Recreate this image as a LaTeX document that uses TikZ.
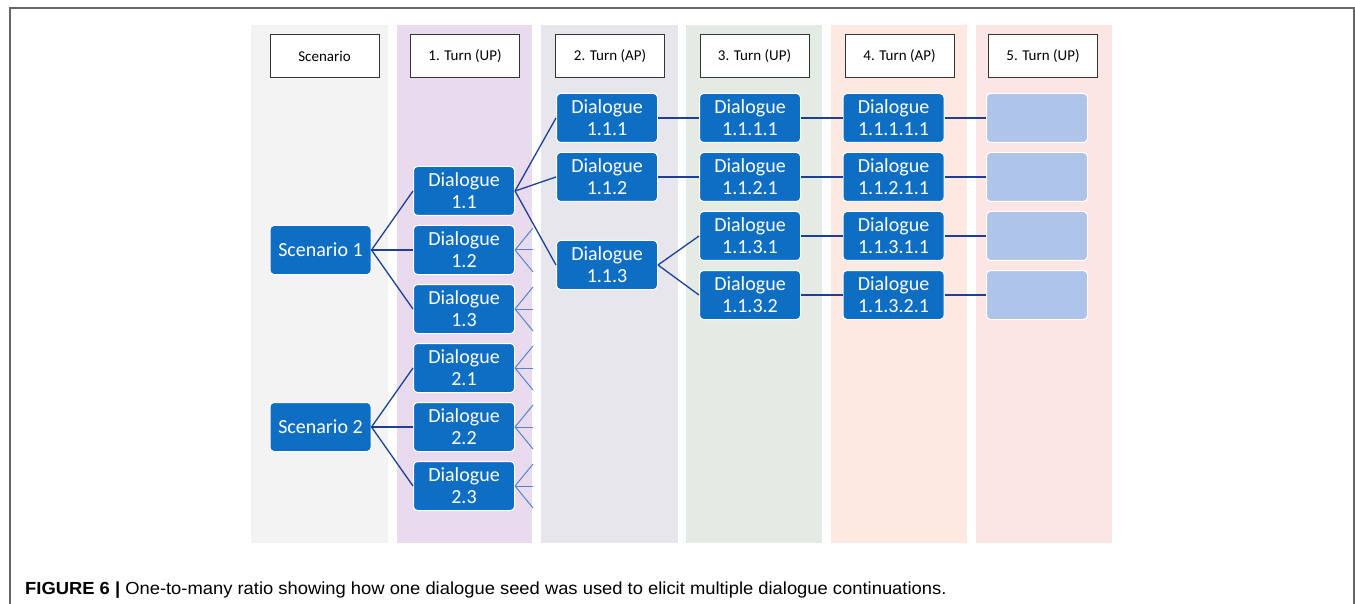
\documentclass[tikz,border=0pt]{standalone}
\usepackage{fontspec}
\setmainfont{Carlito}
\newfontfamily\capfont{Liberation Sans}[FakeStretch=1.05]
\usetikzlibrary{positioning}
\definecolor{dlgblue}{RGB}{14,110,196}
\definecolor{connblue}{RGB}{28,64,150}
\definecolor{fadeblue}{RGB}{84,132,212}
\definecolor{blankblue}{RGB}{174,196,233}
\definecolor{colscen}{RGB}{243,243,243}
\definecolor{colone}{RGB}{234,218,237}
\definecolor{coltwo}{RGB}{230,230,236}
\definecolor{colthree}{RGB}{228,235,229}
\definecolor{colfour}{RGB}{253,233,226}
\definecolor{colfive}{RGB}{252,229,229}

\begin{document}
\begin{tikzpicture}[x=1pt,y=-1pt,
    dlg/.style={rectangle,rounded corners=4pt,draw=white,line width=1pt,fill=dlgblue,text=white,
      minimum width=101pt,minimum height=49pt,inner sep=0pt,align=center,
      font=\fontsize{20}{22}\selectfont},
    blankbox/.style={dlg,fill=blankblue},
    turn/.style={rectangle,draw=black!80,line width=1pt,fill=white,minimum width=109pt,
      minimum height=43pt,inner sep=0pt,font=\fontsize{15}{17}\selectfont},
    conn/.style={connblue,line width=1.3pt},
    fadeconn/.style={fadeblue,line width=1pt}]
  \useasboundingbox (0,0) rectangle (1355,604);
  \draw[black!60,line width=2pt] (9.5,604) -- (9.5,8.5) -- (1354,8.5) -- (1354,604);

  \fill[colscen] (251,25) rectangle (388,543);
  \fill[colone] (397,25) rectangle (532,543);
  \fill[coltwo] (541,25) rectangle (678,543);
  \fill[colthree] (686,25) rectangle (822,543);
  \fill[colfour] (831,25) rectangle (967,543);
  \fill[colfive] (976,25) rectangle (1112,543);

  \node[turn] (hscen) at (324.5,56.5) {Scenario};
  \node[turn] (hone) at (465,56.5) {1. Turn (UP)};
  \node[turn] (htwo) at (610,56.5) {2. Turn (AP)};
  \node[turn] (hthree) at (754.5,56.5) {3. Turn (UP)};
  \node[turn] (hfour) at (899.5,56.5) {4. Turn (AP)};
  \node[turn] (hfive) at (1043,56.5) {5. Turn (UP)};

  \node[dlg] (s1) at (320.5,250) {Scenario 1};
  \node[dlg] (s2) at (320.5,427) {Scenario 2};

  \node[dlg] (d11) at (464,191) {Dialogue\\1.1};
  \node[dlg] (d12) at (464,250) {Dialogue\\1.2};
  \node[dlg] (d13) at (464,309) {Dialogue\\1.3};
  \node[dlg] (d21) at (464,368) {Dialogue\\2.1};
  \node[dlg] (d22) at (464,427) {Dialogue\\2.2};
  \node[dlg] (d23) at (464,486) {Dialogue\\2.3};

  \node[dlg] (d111) at (607,118) {Dialogue\\1.1.1};
  \node[dlg] (d112) at (607,177) {Dialogue\\1.1.2};
  \node[dlg] (d113) at (607,265) {Dialogue\\1.1.3};

  \node[dlg] (d1111) at (750,118) {Dialogue\\1.1.1.1};
  \node[dlg] (d1121) at (750,177) {Dialogue\\1.1.2.1};
  \node[dlg] (d1131) at (750,236) {Dialogue\\1.1.3.1};
  \node[dlg] (d1132) at (750,295) {Dialogue\\1.1.3.2};

  \node[dlg] (d11111) at (893.5,118) {Dialogue\\1.1.1.1.1};
  \node[dlg] (d11211) at (893.5,177) {Dialogue\\1.1.2.1.1};
  \node[dlg] (d11311) at (893.5,236) {Dialogue\\1.1.3.1.1};
  \node[dlg] (d11321) at (893.5,295) {Dialogue\\1.1.3.2.1};

  \node[blankbox] (e1) at (1037,118) {};
  \node[blankbox] (e2) at (1037,177) {};
  \node[blankbox] (e3) at (1037,236) {};
  \node[blankbox] (e4) at (1037,295) {};

  \draw[conn] (s1.east) -- (d11.west);
  \draw[conn] (s1.east) -- (d12.west);
  \draw[conn] (s1.east) -- (d13.west);
  \draw[conn] (s2.east) -- (d21.west);
  \draw[conn] (s2.east) -- (d22.west);
  \draw[conn] (s2.east) -- (d23.west);
  \draw[conn] (d11.east) -- (d111.west);
  \draw[conn] (d11.east) -- (d112.west);
  \draw[conn] (d11.east) -- (d113.west);
  \draw[conn] (d113.east) -- (d1131.west);
  \draw[conn] (d113.east) -- (d1132.west);
  \draw[conn] (d111.east) -- (d1111.west);
  \draw[conn] (d112.east) -- (d1121.west);
  \draw[conn] (d1111.east) -- (d11111.west);
  \draw[conn] (d1121.east) -- (d11211.west);
  \draw[conn] (d1131.east) -- (d11311.west);
  \draw[conn] (d1132.east) -- (d11321.west);
  \draw[conn] (d11111.east) -- (e1.west);
  \draw[conn] (d11211.east) -- (e2.west);
  \draw[conn] (d11311.east) -- (e3.west);
  \draw[conn] (d11321.east) -- (e4.west);

  \foreach \n in {d12,d13,d21,d22,d23}
    \foreach \dy in {-22,0,22}
      \draw[fadeconn] (\n.east) -- ++(18,\dy);

  \node[anchor=base west,inner sep=0pt] (caption) at (25,594)
    {\capfont\fontsize{17.5}{20}\selectfont\textbf{FIGURE 6 |} One-to-many ratio showing how one dialogue seed was used to elicit multiple dialogue continuations.};
\end{tikzpicture}
\end{document}
